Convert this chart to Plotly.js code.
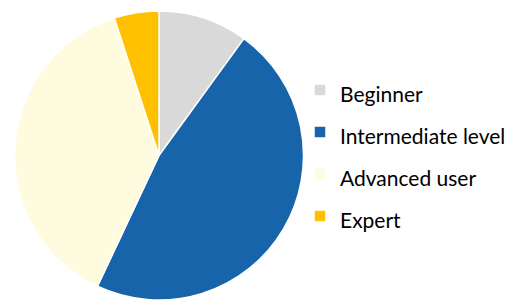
<!DOCTYPE html>
<html>
<head>
<meta charset="utf-8">
<script src="https://cdn.plot.ly/plotly-3.0.1.min.js"></script>
<style>html,body{margin:0;padding:0;background:#fff;}#chart{width:511px;height:300px;}</style>
</head>
<body>
<div id="chart"></div>
<script>
const labels = ["Beginner", "Intermediate level", "Advanced user", "Expert"];
const values = [10, 47, 38, 5];
const colors = ["#d9d9d9", "#1764ab", "#fffbdf", "#ffc000"];

const legendTextSize = 21;

const trace = {
  type: "pie",
  labels: labels.map(l => `<span style="font-size:${legendTextSize}px">${l}</span>`),
  values: values,
  sort: false,
  direction: "clockwise",
  rotation: 0,
  textinfo: "none",
  hoverinfo: "label+percent",
  marker: { colors: colors, line: { color: "#ffffff", width: 1.5 } },
  domain: { x: [13/511, 305/511], y: [0, 1] }
};

const layout = {
  width: 511,
  height: 300,
  margin: { l: 0, r: 0, t: 11, b: 0, autoexpand: false },
  paper_bgcolor: "#ffffff",
  showlegend: true,
  legend: {
    x: 300/511, xanchor: "left",
    y: (300 - 153)/289, yanchor: "middle",
    font: { family: "Lato, 'Open Sans', sans-serif", size: 30, color: "#000000" },
    bgcolor: "rgba(0,0,0,0)"
  }
};

Plotly.newPlot("chart", [trace], layout, { displayModeBar: false, staticPlot: true });
</script>
</body>
</html>
